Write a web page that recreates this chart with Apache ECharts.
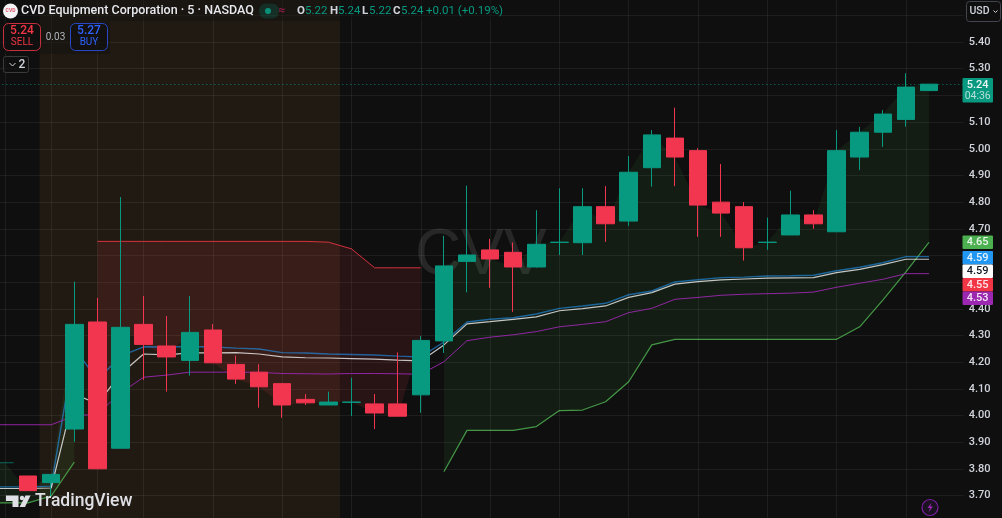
<!DOCTYPE html>
<html>
<head>
<meta charset="utf-8">
<style>html,body{margin:0;padding:0;background:#0f0f0f}#main{width:1002px;height:518px}</style>
<script src="https://cdn.jsdelivr.net/npm/echarts@6/dist/echarts.min.js"></script>
</head>
<body>
<div id="main"></div>
<script>
// bar numbers, -2 and -1 are off or half off the left edge, 40 is the empty slot on the right
const bars = ['-2','-1','0','1','2','3','4','5','6','7','8','9','10','11','12','13','14','15','16','17','18','19','20','21','22','23','24','25','26','27','28','29','30','31','32','33','34','35','36','37','38','39','40'];
const opens = [null,3.823,3.774,3.749,3.95,4.351,3.878,4.342,4.261,4.207,4.321,4.192,4.163,4.12,4.061,4.04,4.05,4.044,4.044,4.078,4.28,4.578,4.621,4.612,4.557,4.649,4.648,4.783,4.729,4.929,5.04,4.993,4.8,4.783,4.649,4.677,4.752,4.689,4.969,5.062,5.11,5.218,null];
const closes = [3.824,3.824,3.719,3.78,4.342,3.801,4.331,4.267,4.22,4.312,4.198,4.137,4.108,4.04,4.048,4.051,4.051,4.01,3.998,4.282,4.561,4.602,4.587,4.557,4.642,4.65,4.783,4.719,4.912,5.052,4.969,4.789,4.759,4.629,4.65,4.752,4.719,4.993,5.062,5.13,5.231,5.242,null];
const lows = [null,3.823,3.719,3.695,3.902,3.801,3.878,4.134,4.09,4.15,4.198,4.119,4.03,3.992,4.04,4.04,3.999,3.95,3.998,4.011,4.235,4.462,4.479,4.389,4.555,4.602,4.602,4.651,4.711,4.858,4.86,4.67,4.67,4.581,4.621,4.677,4.7,4.689,4.92,5.007,5.083,5.218,null];
const highs = [null,3.824,3.774,3.78,4.502,4.441,4.819,4.448,4.373,4.448,4.343,4.225,4.193,4.12,4.081,4.09,4.142,4.081,4.237,4.298,4.674,4.862,4.662,4.649,4.77,4.852,4.852,4.86,4.973,5.07,5.154,5.002,4.943,4.8,4.742,4.843,4.77,5.07,5.082,5.145,5.283,5.242,null];

// indicator lines
const blueLine = [3.733,3.733,3.733,3.736,4.253,4.134,4.223,4.258,4.257,4.259,4.257,4.253,4.25,4.236,4.235,4.231,4.229,4.227,4.223,4.22,4.276,4.351,4.361,4.367,4.381,4.402,4.411,4.421,4.453,4.467,4.501,4.509,4.517,4.519,4.523,4.524,4.526,4.543,4.556,4.573,4.596,4.596,null];
const whiteLine = [3.727,3.727,3.727,3.729,4.081,4.044,4.156,4.231,4.228,4.235,4.235,4.236,4.231,4.22,4.217,4.216,4.214,4.212,4.208,4.205,4.265,4.344,4.352,4.361,4.37,4.393,4.401,4.411,4.443,4.461,4.493,4.502,4.509,4.512,4.515,4.516,4.517,4.536,4.548,4.566,4.586,4.586,null];
const purpleLine = [3.966,3.966,3.966,3.966,3.999,4.006,4.085,4.144,4.152,4.163,4.163,4.163,4.162,4.158,4.157,4.156,4.158,4.158,4.157,4.155,4.202,4.281,4.294,4.303,4.315,4.333,4.342,4.352,4.386,4.402,4.436,4.443,4.451,4.455,4.457,4.459,4.463,4.481,4.496,4.511,4.532,4.532,null];
const redBand = [null,null,null,null,null,4.653,4.653,4.653,4.653,4.653,4.653,4.653,4.653,4.653,4.653,4.65,4.625,4.554,4.554,4.554,null,null,null,null,null,null,null,null,null,null,null,null,null,null,null,null,null,null,null,null,null,null,null];
const greenBand = [3.673,3.673,3.673,3.699,3.826,null,null,null,null,null,null,null,null,null,null,null,null,null,null,null,3.79,3.945,3.945,3.945,3.959,4.019,4.021,4.052,4.127,4.265,4.286,4.286,4.286,4.286,4.286,4.286,4.286,4.286,4.333,4.433,4.539,4.649,null];

// axis
const tickLabels = ['5.40','5.30','5.10','5.00','4.90','4.80','4.70','4.40','4.30','4.20','4.10','4.00','3.90','3.80','3.70'];
const timeLines = [-1,1,3,5,8,11,14,17,20,23,26,29,32,35,38];
const sessionStart = 0.5, sessionEnd = 13.5;
const lastPrice = 5.24;

const UP = '#089981', DOWN = '#f23650';
const FONT = 'Roboto, "Liberation Sans", sans-serif';

const candles = bars.map((b, i) => {
  if (opens[i] === null) return { value: ['-', '-', '-', '-'] };
  const item = { value: [opens[i], closes[i], lows[i], highs[i]] };
  if (i === 1) item.itemStyle = { color: 'rgba(8,153,129,.35)', borderColor: 'rgba(8,153,129,.35)' };
  return item;
});
const redFill = redBand.map((v, i) => (v === null ? null : v - closes[i]));
const redBase = redBand.map((v, i) => (v === null ? null : closes[i]));
const greenFill = greenBand.map((v, i) => (v === null ? null : closes[i] - v));

function indicator(name, data, color, width) {
  return {
    name, type: 'line', data, z: 3, silent: true, showSymbol: false, connectNulls: false,
    lineStyle: { color, width }, animation: false,
  };
}
function txt(x, y, text, size, fill, extra) {
  return {
    type: 'text', x, y, z: 100,
    style: Object.assign({ text, fontSize: size, fontFamily: FONT, fill, verticalAlign: 'middle' }, extra || {}),
  };
}
function box(x, y, w, h, fill, stroke, r) {
  return {
    type: 'rect', z: 99, shape: { x, y, width: w, height: h, r: r || 0 },
    style: { fill: fill || 'transparent', stroke: stroke || null, lineWidth: stroke ? 1 : 0 },
  };
}
// price tags on the axis, stacked by hand the way the chart pushes them apart
function tag(y, text, bg, color) {
  return [
    box(962.5, y, 30.5, 13.5, bg, null, 1),
    txt(977.7, y + 7, text, 11, color, { align: 'center', fontWeight: 500 }),
  ];
}

const myChart = echarts.init(document.getElementById('main'));

const option = {
  animation: false,
  backgroundColor: '#0f0f0f',
  grid: { left: -29.65, top: -11.38, width: 993.3, height: 533.8, outerBoundsMode: 'none' },
  xAxis: [
    { type: 'category', data: bars, show: false },
    { type: 'value', min: -2.5, max: 40.5, show: false, gridIndex: 0 },
  ],
  yAxis: {
    type: 'value', position: 'right', min: 3.6, max: 5.6, interval: 0.1, scale: true,
    axisLine: { show: false }, axisTick: { show: false },
    splitLine: { lineStyle: { color: 'rgba(242,242,242,.065)', width: 1 } },
    axisLabel: {
      margin: 5, color: '#d1d4dc', fontSize: 11, fontFamily: FONT, fontWeight: 500,
      formatter: (v) => (tickLabels.includes(v.toFixed(2)) ? v.toFixed(2) : ''),
    },
  },
  series: [
    {
      // session background, vertical grid and the last price line
      type: 'line', xAxisIndex: 1, data: [], z: 1, silent: true,
      markArea: {
        silent: true, itemStyle: { color: 'rgba(255,160,60,.08)' },
        data: [[{ xAxis: sessionStart }, { xAxis: sessionEnd }]],
      },
      markLine: {
        silent: true, symbol: 'none', label: { show: false }, animation: false,
        lineStyle: { color: 'rgba(242,242,242,.065)', width: 1, type: 'solid' },
        data: timeLines.map((v) => ({ xAxis: v })).concat([
          { yAxis: lastPrice, lineStyle: { color: 'rgba(8,153,129,.8)', width: 1, type: [1, 3] } },
        ]),
      },
    },
    // fills between the band and the closes
    { type: 'line', data: redBase, stack: 'red', z: 2, silent: true, showSymbol: false, lineStyle: { opacity: 0 } },
    {
      type: 'line', data: redFill, stack: 'red', z: 2, silent: true, showSymbol: false,
      lineStyle: { opacity: 0 }, areaStyle: { color: 'rgba(242,54,69,.11)', opacity: 1 },
    },
    { type: 'line', data: greenBand, stack: 'green', z: 2, silent: true, showSymbol: false, lineStyle: { color: 'rgba(76,175,80,.85)', width: 1.2 } },
    {
      type: 'line', data: greenFill, stack: 'green', z: 2, silent: true, showSymbol: false,
      lineStyle: { opacity: 0 }, areaStyle: { color: 'rgba(76,175,80,.09)', opacity: 1 },
    },
    indicator('upper', redBand, 'rgba(242,54,69,.85)', 1),
    indicator('vwap', blueLine, 'rgba(33,150,243,.6)', 1.4),
    indicator('ma', whiteLine, 'rgba(255,255,255,.75)', 1.2),
    indicator('basis', purpleLine, 'rgba(156,39,176,.9)', 1),
    {
      type: 'candlestick', data: candles, z: 5, barWidth: 18, silent: true,
      itemStyle: { color: UP, color0: DOWN, borderColor: UP, borderColor0: DOWN, borderWidth: 1 },
    },
  ],
  graphic: [
    // ticker watermark behind everything
    { type: 'text', x: 415, y: 256, z: 0, zlevel: 0, style: { text: 'CVV', fontSize: 64, fontFamily: '"Liberation Sans", sans-serif', fill: 'rgba(255,255,255,.1)', verticalAlign: 'middle' } },

    // legend backdrop
    box(0, 0, 500, 21, 'rgba(15,15,15,.45)'),
    box(0, 21, 110, 33, 'rgba(15,15,15,.45)'),
    // symbol row
    { type: 'circle', z: 99, shape: { cx: 10.5, cy: 11, r: 7.5 }, style: { fill: '#f4f4f6' } },
    txt(10.5, 11, 'CVD', 5, '#e0566e', { align: 'center', fontWeight: 700 }),
    txt(21, 11, 'CVD Equipment Corporation · 5 · NASDAQ', 12.5, '#e8e9ee', { fontWeight: 500 }),
    box(259, 3.5, 20, 15, 'rgba(8,153,129,.2)', null, 7),
    { type: 'circle', z: 100, shape: { cx: 268, cy: 11, r: 3 }, style: { fill: '#0a8f78' } },
    txt(282, 11, '≈', 12, '#8f1d4a', { align: 'center', fontWeight: 700 }),
    txt(297, 11, 'O', 11.5, '#d1d4dc', { fontWeight: 700 }),
    txt(305, 11, '5.22', 11.5, UP),
    txt(330, 11, 'H', 11.5, '#d1d4dc', { fontWeight: 700 }),
    txt(338, 11, '5.24', 11.5, UP),
    txt(362, 11, 'L', 11.5, '#d1d4dc', { fontWeight: 700 }),
    txt(369, 11, '5.22', 11.5, UP),
    txt(393, 11, 'C', 11.5, '#d1d4dc', { fontWeight: 700 }),
    txt(401, 11, '5.24', 11.5, UP),
    txt(426, 11, '+0.01 (+0.19%)', 11.5, UP),
    // sell / buy
    box(3.5, 23.5, 37, 27, 'rgba(15,15,15,.6)', '#c9303f', 5),
    txt(22, 30.5, '5.24', 12, '#f23645', { align: 'center', fontWeight: 500 }),
    txt(22, 42, 'SELL', 10, '#f23645', { align: 'center' }),
    txt(55.5, 37, '0.03', 10, '#b2b5be', { align: 'center' }),
    box(70.5, 23.5, 37, 27, 'rgba(15,15,15,.6)', '#2848c8', 5),
    txt(89, 30.5, '5.27', 12, '#2e62ff', { align: 'center', fontWeight: 500 }),
    txt(89, 42, 'BUY', 10, '#2e62ff', { align: 'center' }),
    box(3.5, 56.5, 25, 16, 'rgba(15,15,15,.6)', '#3a3a3a', 2),
    { type: 'polyline', z: 100, shape: { points: [[9.5, 63], [12.5, 66], [15.5, 63]] }, style: { stroke: '#d1d4dc', lineWidth: 1, fill: null } },
    txt(22, 64.5, '2', 12, '#d1d4dc', { align: 'center', fontWeight: 500 }),

    // currency button
    box(966.5, 1.5, 34, 20, '#0f0f0f', '#434651', 3),
    txt(969.5, 11.5, 'USD', 10.5, '#d1d4dc', { fontWeight: 500 }),
    { type: 'polyline', z: 100, shape: { points: [[993.5, 10.5], [995.5, 12.5], [997.5, 10.5]] }, style: { stroke: '#d1d4dc', lineWidth: 1, fill: null } },

    // last price tag
    box(962.5, 78, 30.5, 24.5, UP, null, 1),
    txt(977.7, 85, '5.24', 11, '#e8f5f2', { align: 'center', fontWeight: 500 }),
    txt(977.7, 96, '04:36', 10.5, '#b6dfd7', { align: 'center' }),
    // indicator tags
    ...tag(235.5, '4.65', '#4caf50', '#e8f5e9'),
    ...tag(251, '4.59', '#2196f3', '#e3f2fd'),
    ...tag(264.5, '4.59', '#ffffff', '#131722'),
    ...tag(278, '4.55', '#f23645', '#fde7e9'),
    ...tag(291.5, '4.53', '#9c27b0', '#f3e5f5'),

    // TradingView mark
    { type: 'polygon', z: 100, shape: { points: [[6, 495.5], [18.5, 495.5], [18.5, 507], [12.5, 507], [12.5, 501], [6, 501]] }, style: { fill: '#dfe0e5' } },
    { type: 'polygon', z: 100, shape: { points: [[25.5, 495.5], [30.5, 495.5], [25, 507], [19.5, 507]] }, style: { fill: '#dfe0e5' } },
    { type: 'circle', z: 100, shape: { cx: 22, cy: 498, r: 2.2 }, style: { fill: '#dfe0e5' } },
    txt(35, 502, 'TradingView', 17.5, '#dfe0e5', { fontWeight: 500 }),

    // lightning button
    { type: 'circle', z: 100, shape: { cx: 930, cy: 507.5, r: 8 }, style: { fill: '#1a1220', stroke: '#7b1fa2', lineWidth: 1.2 } },
    { type: 'polygon', z: 101, shape: { points: [[931.5, 502.5], [927.5, 508], [930.1, 508], [928.5, 512.5], [932.9, 506.5], [930.3, 506.5]] }, style: { fill: '#9c27b0' } },
  ],
};

myChart.setOption(option);
</script>
</body>
</html>
